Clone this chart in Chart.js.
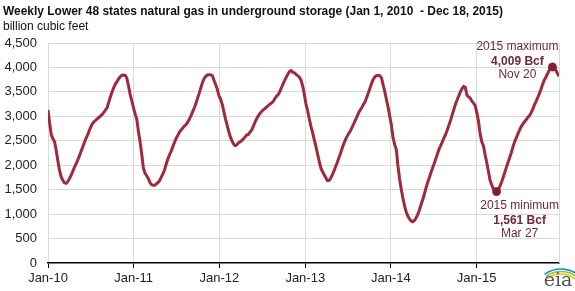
<!DOCTYPE html>
<html>
<head>
<meta charset="utf-8">
<script src="https://cdn.jsdelivr.net/npm/chart.js@4.4.0/dist/chart.umd.min.js"></script>
<style>
  body { margin: 0; background: #fff; }
  canvas { display: block; }
</style>
</head>
<body>
<canvas id="canvas" width="575" height="291"></canvas>
<script>
// weekly working gas in storage, Bcf, one value every 7 days from Jan 1, 2010 to Dec 18, 2015
const weeklyBcf = [
  3130, 2860, 2620, 2540, 2480, 2300, 2090, 1900, 1760, 1690, 1640, 1630, 1660, 1720, 1790, 1870, 1950, 2020, 2100, 2180,
  2270, 2360, 2450, 2540, 2610, 2700, 2780, 2850, 2890, 2920, 2950, 2980, 3010, 3040, 3080, 3130, 3180, 3290, 3400, 3500,
  3590, 3660, 3710, 3770, 3810, 3840, 3845, 3840, 3780, 3620, 3450, 3320,
  3180, 3050, 2950, 2700, 2490, 2240, 1950, 1840, 1790, 1730, 1650, 1600, 1590, 1590, 1620, 1650, 1690, 1760, 1830, 1910,
  2030, 2130, 2220, 2290, 2380, 2470, 2550, 2610, 2680, 2720, 2760, 2800, 2830, 2880, 2940, 3010, 3090, 3170, 3260, 3370,
  3470, 3580, 3690, 3770, 3820, 3845, 3850, 3850, 3835, 3740, 3650, 3560,
  3420, 3360, 3250, 3100, 2950, 2820, 2690, 2580, 2500, 2430, 2400, 2420, 2460, 2480, 2510, 2540, 2580, 2620, 2630, 2680,
  2720, 2800, 2880, 2950, 3010, 3060, 3100, 3130, 3160, 3190, 3220, 3250, 3270, 3300, 3360, 3410, 3440, 3500, 3580, 3660,
  3730, 3800, 3860, 3920, 3935, 3900, 3890, 3860, 3830, 3800, 3740, 3620,
  3450, 3250, 3120, 2950, 2800, 2670, 2530, 2390, 2240, 2090, 1950, 1870, 1810, 1750, 1690, 1690, 1730, 1800, 1880, 1970,
  2050, 2150, 2240, 2340, 2440, 2520, 2590, 2650, 2700, 2770, 2840, 2920, 2990, 3070, 3130, 3180, 3240, 3300, 3390, 3480,
  3580, 3680, 3760, 3810, 3830, 3840, 3830, 3780, 3640, 3500, 3340, 3180,
  3000, 2820, 2560, 2420, 2320, 1980, 1720, 1510, 1330, 1170, 1050, 960, 900, 860, 845, 870, 920, 990, 1080, 1190,
  1290, 1400, 1530, 1640, 1740, 1840, 1940, 2030, 2130, 2230, 2330, 2400, 2480, 2560, 2630, 2720, 2820, 2920, 3030, 3140,
  3250, 3340, 3420, 3500, 3570, 3610, 3590, 3430, 3400, 3370, 3310, 3270, 3220,
  3070, 2900, 2640, 2480, 2400, 2220, 2060, 1880, 1700, 1600, 1520, 1480, 1461, 1490, 1570, 1650, 1750, 1850, 1960, 2060,
  2160, 2260, 2380, 2480, 2560, 2640, 2720, 2790, 2840, 2890, 2930, 2980, 3010, 3070, 3140, 3230, 3300, 3380, 3460, 3550,
  3650, 3740, 3800, 3870, 3940, 3990, 4009, 3960, 3955, 3880, 3820
];
const tickDays = [0, 365, 730, 1096, 1461, 1826];
const tickLabels = ['Jan-10', 'Jan-11', 'Jan-12', 'Jan-13', 'Jan-14', 'Jan-15'];
const markerWeeks = [307, 273];
const markerNotes = [
  ['2015 maximum', '4,009 Bcf', 'Nov 20'],
  ['2015 minimum', '1,561 Bcf', 'Mar 27']
];
const titleText = 'Weekly Lower 48 states natural gas in underground storage (Jan 1, 2010  - Dec 18, 2015)';
const subtitleText = 'billion cubic feet';

const points = weeklyBcf.map((v, i) => ({ x: i * 7, y: v }));
const markers = markerWeeks.map(w => ({ x: w * 7, y: weeklyBcf[w] }));

Chart.defaults.font.family = '"Liberation Sans", Arial, sans-serif';
Chart.defaults.color = '#222';

const extras = {
  id: 'extras',
  beforeDatasetsDraw(chart) {
    const { ctx, chartArea: a } = chart;
    ctx.save();
    ctx.strokeStyle = '#d9d9d9';
    ctx.lineWidth = 1;
    ctx.beginPath();
    ctx.moveTo(Math.round(a.right) + 0.5, a.top);
    ctx.lineTo(Math.round(a.right) + 0.5, a.bottom);
    ctx.stroke();
    ctx.restore();
  },
  afterDraw(chart) {
    const { ctx } = chart;
    const xs = chart.scales.x, ys = chart.scales.y;
    ctx.save();
    ctx.fillStyle = '#111';
    ctx.textAlign = 'left';
    ctx.textBaseline = 'alphabetic';
    ctx.font = 'bold 13px "Liberation Sans", Arial, sans-serif';
    ctx.fillText(titleText, 3, 15, 500);
    ctx.font = '12px "Liberation Sans", Arial, sans-serif';
    ctx.fillText(subtitleText, 3, 30);

    // notes next to the 2015 max / min points
    ctx.textAlign = 'center';
    ctx.textBaseline = 'middle';
    ctx.fillStyle = '#6e2a3a';
    const offs = [[-35, [-20, -5, 8]], [23, [14, 29, 42]]];
    markers.forEach((m, k) => {
      const px = xs.getPixelForValue(m.x), py = ys.getPixelForValue(m.y);
      markerNotes[k].forEach((t, j) => {
        ctx.font = (j === 1 ? 'bold ' : '') + '12px "Liberation Sans", Arial, sans-serif';
        ctx.fillText(t, px + offs[k][0], py + offs[k][1][j]);
      });
    });

    // eia logo
    const arcs = ['#1a8fd0', '#8cc63f', '#f2c500'];
    ctx.lineWidth = 1.6;
    arcs.forEach((c, i) => {
      ctx.strokeStyle = c;
      ctx.beginPath();
      ctx.arc(561, 297, 28 - i * 2.5, Math.PI * 1.3, Math.PI * 1.9);
      ctx.stroke();
    });
    ctx.fillStyle = '#555';
    ctx.font = '19px "DejaVu Serif", serif';
    ctx.textBaseline = 'alphabetic';
    ctx.fillText('eia', 558, 286);
    ctx.restore();
  }
};

const data = {
  datasets: [
    {
      label: '2015 extremes',
      data: markers,
      showLine: false,
      pointRadius: 4,
      pointBackgroundColor: '#861f31',
      pointBorderColor: '#861f31',
    },
    {
      label: 'Storage',
      data: points,
      borderColor: '#9e2a3c',
      borderWidth: 3,
      pointRadius: 0,
      tension: 0,
    },
  ],
};

const config = {
  type: 'line',
  data: data,
  options: {
    responsive: false,
    animation: false,
    layout: { padding: { top: 43, right: 16, left: 0, bottom: 0 } },
    plugins: { legend: { display: false }, tooltip: { enabled: false } },
    scales: {
      x: {
        type: 'linear',
        min: 0,
        max: 2177,
        afterBuildTicks: s => { s.ticks = tickDays.map(v => ({ value: v })); },
        afterFit: s => { s.height = 28; },
        ticks: {
          autoSkip: false,
          maxRotation: 0,
          padding: 3,
          font: { size: 13 },
          callback: v => tickLabels[tickDays.indexOf(v)],
        },
        grid: { color: '#d9d9d9', tickColor: '#000', tickLength: 5 },
        border: { color: '#000', width: 1.5 },
      },
      y: {
        min: 0,
        max: 4500,
        afterFit: s => { s.width = 48; },
        ticks: {
          stepSize: 500,
          padding: 11,
          font: { size: 13 },
          callback: v => v.toLocaleString('en-US'),
        },
        grid: {
          drawTicks: false,
          color: c => (c.tick && c.tick.value === 0 ? 'rgba(0,0,0,0)' : '#d9d9d9'),
        },
        border: { display: false },
      },
    },
  },
  plugins: [extras],
};

const canvas = document.getElementById('canvas');
const chart = new Chart(canvas, config);
</script>
</body>
</html>
